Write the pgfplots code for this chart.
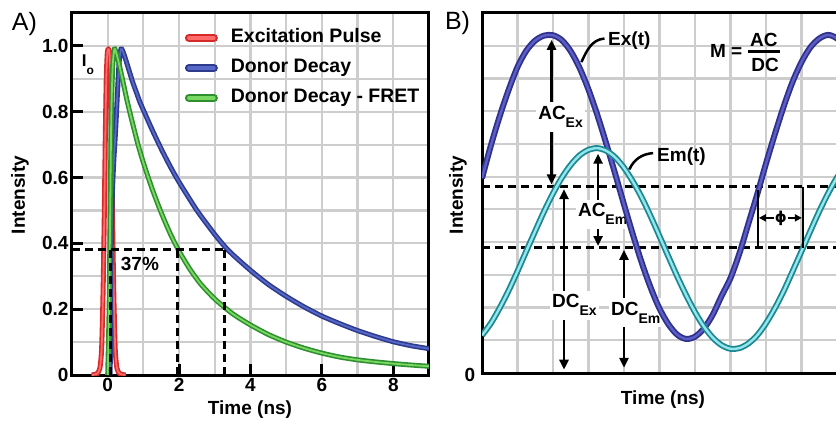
\documentclass[border=0pt]{standalone}
\usepackage{pgfplots}
\pgfplotsset{compat=1.18}
\usepackage{pgfplotstable}
\usepackage{fontspec}
\setmainfont{Liberation Sans}
\newfontfamily\dejavu{DejaVu Sans}
\usetikzlibrary{arrows.meta}

\definecolor{redO}{HTML}{D42A2A}\definecolor{redI}{HTML}{FF6A6A}
\definecolor{bluO}{HTML}{2E3A8C}\definecolor{bluI}{HTML}{5668C8}
\definecolor{grnO}{HTML}{2F8F2F}\definecolor{grnI}{HTML}{78D862}
\definecolor{exO}{HTML}{30318A}\definecolor{exI}{HTML}{5C5EC6}
\definecolor{emO}{HTML}{1E8892}\definecolor{emI}{HTML}{92E6EC}
\definecolor{gridc}{HTML}{CDCDCD}

\newcommand\fs{\fontsize{19}{22}\selectfont\bfseries}
\newcommand\sub[1]{\raisebox{-8pt}{\fontsize{14}{14}\selectfont\bfseries #1}}

\pgfplotstableread{
x y
-0.45 0
-0.3 0.004
-0.22 0.02
-0.17 0.08
-0.13 0.25
-0.1 0.45
-0.07 0.7
-0.04 0.9
-0.01 0.98
0.02 0.99
0.05 0.98
0.08 0.9
0.11 0.7
0.14 0.45
0.17 0.25
0.21 0.08
0.26 0.02
0.34 0.004
0.5 0
}\pulsedata

\pgfplotstableread{
x y
0.07 0
0.08 0.2
0.1 0.4
0.13 0.55
0.17 0.65
0.22 0.74
0.27 0.85
0.32 0.95
0.37 0.99
0.42 0.985
0.5 0.96
0.6 0.925
0.7 0.89
0.8 0.86
0.9 0.83
1.0 0.805
1.25 0.744
1.5 0.687
1.75 0.634
2.0 0.586
2.5 0.500
3.0 0.427
3.3 0.388
3.5 0.366
4.0 0.318
4.5 0.275
5.0 0.239
5.5 0.207
6.0 0.179
6.5 0.156
7.0 0.135
7.5 0.117
8.0 0.101
8.5 0.089
9.0 0.080
}\donordata

\pgfplotstableread{
x y
0.0 0
0.04 0.2
0.07 0.5
0.1 0.78
0.14 0.94
0.19 0.99
0.25 0.975
0.35 0.93
0.45 0.88
0.55 0.83
0.65 0.785
0.75 0.742
0.85 0.70
1.0 0.645
1.25 0.564
1.5 0.493
1.75 0.430
2.0 0.376
2.3 0.322
2.6 0.277
3.0 0.231
3.5 0.186
4.0 0.152
4.5 0.123
5.0 0.100
5.5 0.0815
6.0 0.0665
6.5 0.0545
7.0 0.046
7.5 0.0398
8.0 0.0347
8.5 0.0303
9.0 0.0265
}\fretdata

\pgfplotstableread{
x y
0 5.95
0.25 6.95
0.5 7.85
0.75 8.65
1 9.35
1.25 9.85
1.5 10.16
1.75 10.31
2 10.32
2.25 10.17
2.5 9.83
2.75 9.32
3 8.66
3.25 7.88
3.5 7.01
3.75 6.09
4 5.15
4.25 4.23
4.5 3.37
4.75 2.61
5 1.97
5.25 1.49
5.5 1.17
5.75 1.04
6 1.11
6.25 1.36
6.5 1.78
6.75 2.36
7 2.9
7.25 3.65
7.5 4.55
7.75 5.45
8 6.40
8.25 7.3
8.5 8.15
8.75 8.9
9 9.5
9.25 9.95
9.5 10.22
9.75 10.33
10 10.22
10.25 9.92
10.5 9.45
}\exdata

\pgfplotstableread{
x y
0 1.15
0.25 1.52
0.5 1.99
0.75 2.52
1 3.11
1.25 3.73
1.5 4.34
1.75 4.94
2 5.49
2.25 5.97
2.5 6.36
2.75 6.65
3 6.82
3.25 6.87
3.5 6.79
3.75 6.59
4 6.27
4.25 5.85
4.5 5.36
4.75 4.79
5 4.18
5.25 3.56
5.5 2.95
5.75 2.38
6 1.86
6.25 1.42
6.5 1.08
6.75 0.85
7 0.74
7.25 0.76
7.5 0.90
7.75 1.15
8 1.52
8.25 1.98
8.5 2.51
8.75 3.11
9 3.72
9.25 4.34
9.5 4.94
9.75 5.49
10 5.97
10.25 6.36
10.5 6.65
}\emdata

\begin{document}
\begin{tikzpicture}
\path[use as bounding box] (0,0) rectangle (836pt,421pt);

% ---------------- Panel A ----------------
\begin{axis}[
  at={(72pt,46pt)}, anchor=south west, scale only axis,
  width=357pt, height=362pt,
  xmin=-1, xmax=9, ymin=0, ymax=1.1,
  xtick={0,2,4,6,8}, xticklabels={0,2,4,6,8},
  ytick={0,0.2,0.4,0.6,0.8,1.0}, yticklabels={0,0.2,0.4,0.6,0.8,1.0},
  minor x tick num=1, minor y tick num=1,
  grid=both,
  major grid style={gridc, line width=2.2pt},
  minor grid style={gridc, line width=2.2pt},
  tick align=inside, tick pos=left,
  major tick length=11pt, minor tick length=0pt,
  major tick style={black, line width=3pt},
  axis line style={black, line width=3pt},
  ticklabel style={font=\fs},
  legend cell align=left,
  legend style={at={(axis cs:2.157,0.933)}, anchor=west, draw=none, fill=none,
    inner sep=0pt, column sep=13pt, row sep=12pt,
    nodes={inner sep=0pt, text height=14pt, text depth=4pt},
    font=\fontsize{19.5}{22}\selectfont\bfseries},
]
\addlegendimage{legend image code/.code={\draw[line cap=round,line width=8pt,redO](0pt,0pt)--(25pt,0pt);\draw[line cap=round,line width=3.5pt,redI](0pt,0pt)--(25pt,0pt);}}
\addlegendentry{Excitation Pulse}
\addlegendimage{legend image code/.code={\draw[line cap=round,line width=8pt,bluO](0pt,0pt)--(25pt,0pt);\draw[line cap=round,line width=3.5pt,bluI](0pt,0pt)--(25pt,0pt);}}
\addlegendentry{Donor Decay}
\addlegendimage{legend image code/.code={\draw[line cap=round,line width=8pt,grnO](0pt,0pt)--(25pt,0pt);\draw[line cap=round,line width=3.5pt,grnI](0pt,0pt)--(25pt,0pt);}}
\addlegendentry{Donor Decay - FRET}

\addplot[forget plot, redO, line width=5pt, smooth, tension=0.4] table {\pulsedata};
\addplot[forget plot, redI, line width=1.8pt, smooth, tension=0.4] table {\pulsedata};
\addplot[forget plot, bluO, line width=5pt, smooth, tension=0.4] table {\donordata};
\addplot[forget plot, bluI, line width=1.8pt, smooth, tension=0.4] table {\donordata};
\addplot[forget plot, grnO, line width=5pt, smooth, tension=0.4] table {\fretdata};
\addplot[forget plot, grnI, line width=1.8pt, smooth, tension=0.4] table {\fretdata};

\addplot[forget plot, black, line width=3pt, dash pattern=on 8pt off 5pt] coordinates {(-1,0.38) (3.27,0.38)};
\addplot[forget plot, black, line width=3pt, dash pattern=on 8pt off 5pt] coordinates {(0.07,0.38) (0.07,0)};
\addplot[forget plot, black, line width=3pt, dash pattern=on 8pt off 5pt] coordinates {(1.96,0.38) (1.96,0)};
\addplot[forget plot, black, line width=3pt, dash pattern=on 8pt off 5pt] coordinates {(3.27,0.38) (3.27,0)};

\node[anchor=base west, inner sep=0pt, font=\fontsize{17}{20}\selectfont\bfseries] at (axis cs:-0.728,0.936) {I\raisebox{-8pt}{\fontsize{12}{12}\selectfont o}};
\node[anchor=base west, inner sep=0pt, font=\fs] at (axis cs:0.364,0.319) {37\%};
\end{axis}

% ---------------- Panel B ----------------
\begin{axis}[
  at={(482pt,48pt)}, anchor=south west, scale only axis,
  width=372.75pt, height=360pt,
  xmin=0, xmax=10.5, ymin=0, ymax=11,
  xtick={1,...,10}, ytick={1,...,10},
  xticklabels={}, yticklabels={},
  grid=major, major grid style={gridc, line width=2.2pt},
  major tick length=0pt,
  axis line style={black, line width=3pt},
]
\addplot[black, line width=3pt, dash pattern=on 8pt off 5pt] coordinates {(0,5.69) (10.5,5.69)};
\addplot[black, line width=3pt, dash pattern=on 8pt off 5pt] coordinates {(0,3.82) (10.5,3.82)};

\draw[line width=2.5pt, {Triangle[length=10pt,width=9pt]}-{Triangle[length=10pt,width=9pt]}] (axis cs:1.96,10.18) -- (axis cs:1.96,5.76);
\draw[line width=2.5pt, {Triangle[length=10pt,width=9pt]}-{Triangle[length=10pt,width=9pt]}] (axis cs:3.27,6.70) -- (axis cs:3.27,3.88);
\draw[line width=2.5pt, {Triangle[length=10pt,width=9pt]}-{Triangle[length=10pt,width=9pt]}] (axis cs:2.31,5.62) -- (axis cs:2.31,0.10);
\draw[line width=2.5pt, {Triangle[length=10pt,width=9pt]}-{Triangle[length=10pt,width=9pt]}] (axis cs:4.0,3.76) -- (axis cs:4.0,0.16);

\node[anchor=base west, fill=white, inner xsep=2pt, inner ysep=4pt, xshift=-2pt, font=\fs] at (axis cs:1.58,7.74) {AC\sub{Ex}};
\node[anchor=base west, fill=white, inner xsep=2pt, inner ysep=4pt, xshift=-2pt, font=\fs] at (axis cs:2.70,4.77) {AC\sub{Em}};
\node[anchor=base west, fill=white, inner xsep=2pt, inner ysep=4pt, xshift=-2pt, font=\fs] at (axis cs:1.97,1.99) {DC\sub{Ex}};
\node[anchor=base west, fill=white, inner xsep=2pt, inner ysep=4pt, xshift=-2pt, font=\fs] at (axis cs:3.63,1.77) {DC\sub{Em}};

\addplot[exO, line width=6pt, smooth, tension=0.5] table {\exdata};
\addplot[exI, line width=2.4pt, smooth, tension=0.5] table {\exdata};
\addplot[emO, line width=6pt, smooth, tension=0.5] table {\emdata};
\addplot[emI, line width=2.4pt, smooth, tension=0.5] table {\emdata};

\draw[line width=2.5pt] (axis cs:2.80,9.50) to[out=65,in=185] (axis cs:3.45,10.22);
\node[anchor=base west, inner sep=0pt, font=\fs] at (axis cs:3.55,10.0) {Ex(t)};
\draw[line width=2.5pt] (axis cs:4.15,6.22) to[out=65,in=185] (axis cs:4.82,6.72);
\node[anchor=base west, inner sep=0pt, font=\fs] at (axis cs:4.93,6.45) {Em(t)};

\node[anchor=base west, inner sep=0pt, font=\fs] at (axis cs:6.42,9.63) {M =};
\node[anchor=base west, inner sep=0pt, font=\fs] at (axis cs:7.55,9.97) {AC};
\node[anchor=base west, inner sep=0pt, font=\fs] at (axis cs:7.58,9.2) {DC};
\draw[line width=2.5pt] (axis cs:7.49,9.82) -- (axis cs:8.39,9.82);

\draw[line width=2.5pt] (axis cs:7.77,5.60) -- (axis cs:7.77,3.82);
\draw[line width=2.5pt] (axis cs:9.04,5.69) -- (axis cs:9.04,3.82);
\draw[line width=2pt, {Triangle[length=7pt,width=7pt]}-{Triangle[length=7pt,width=7pt]}] (axis cs:7.80,4.74) -- (axis cs:9.01,4.74);
\node[fill=white, inner sep=1pt, font=\dejavu\bfseries\fontsize{15}{15}\selectfont] at (axis cs:8.42,4.74) {ϕ};
\end{axis}

\node[font=\fontsize{25}{28}\selectfont] at (24.5pt,397pt) {A)};
\node[font=\fontsize{25}{28}\selectfont] at (457.5pt,398pt) {B)};
\node[font=\fs, rotate=90] at (20pt,226pt) {Intensity};
\node[font=\fs] at (250pt,11pt) {Time (ns)};
\node[font=\fs, rotate=90] at (458pt,226pt) {Intensity};
\node[font=\fs] at (663pt,21pt) {Time (ns)};
\node[font=\fs] at (470pt,46pt) {0};
\end{tikzpicture}
\end{document}
